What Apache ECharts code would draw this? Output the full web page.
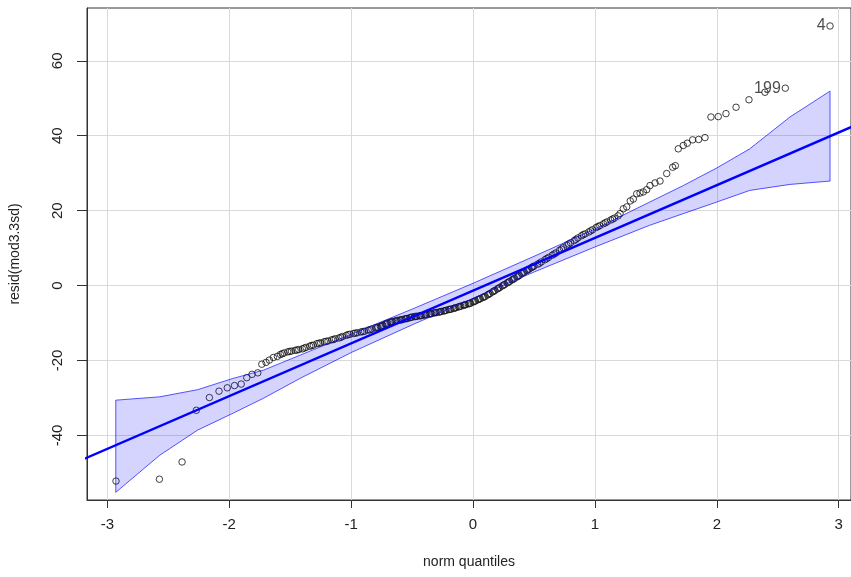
<!DOCTYPE html>
<html>
<head>
<meta charset="utf-8">
<script src="https://cdn.jsdelivr.net/npm/echarts@6/dist/echarts.min.js"></script>
<style>html,body{margin:0;padding:0;background:#fff;}#c{width:851px;height:577px;}</style>
</head>
<body>
<div id="c"></div>
<script>
// Theoretical normal quantiles (x) and residuals (y)
const qx = [
 -2.929,-2.573,-2.387,-2.270,-2.163,-2.084,-2.016,-1.957,-1.902,-1.856,-1.813,-1.766,-1.733,-1.698,-1.671,-1.638,-1.605,
 -1.58,-1.55,-1.52,-1.49,-1.46,-1.43,-1.40,-1.37,-1.34,-1.31,-1.28,-1.25,-1.22,-1.19,-1.16,-1.13,-1.10,-1.07,-1.04,-1.01,
 -0.98,-0.95,-0.92,-0.89,-0.86,-0.83,-0.80,
 -0.78,-0.76,-0.74,-0.72,-0.70,-0.68,-0.66,-0.64,-0.62,-0.60,-0.58,-0.56,-0.54,-0.52,-0.50,-0.48,-0.46,-0.44,-0.42,-0.40,
 -0.38,-0.36,-0.34,-0.32,-0.30,-0.28,-0.26,-0.24,-0.22,-0.20,-0.18,-0.16,-0.14,-0.12,-0.10,-0.08,-0.06,-0.04,-0.02,0.00,
 0.02,0.04,0.06,0.08,0.10,0.12,0.14,0.16,0.18,0.20,0.22,0.24,0.26,0.28,0.30,0.32,0.34,0.36,0.38,0.40,0.42,0.44,0.46,0.48,0.50,
 0.53,0.56,0.59,0.62,0.65,0.68,0.71,0.74,0.77,0.80,0.83,0.86,0.89,0.92,0.95,0.98,1.01,1.04,1.07,1.10,1.13,1.16,1.19,
 1.206,1.233,1.261,1.29,1.315,1.343,1.37,1.397,1.425,1.452,1.493,1.534,1.589,1.638,1.660,
 1.684,1.725,1.758,1.802,1.851,1.903,1.952,2.012,2.075,2.158,2.264,2.395,2.562,2.929,
 // extra points in the dense middle band
 -1.565,-1.505,-1.445,-1.385,-1.325,-1.265,-1.205,-1.145,-1.085,-1.025,-0.965,-0.905,-0.845,
 -0.79,-0.75,-0.71,-0.67,-0.63,-0.59,-0.55,-0.51,-0.47,-0.43,-0.39,-0.35,-0.31,-0.27,-0.23,-0.19,-0.15,-0.11,-0.07,-0.03,
 0.01,0.05,0.09,0.13,0.17,0.21,0.25,0.29,0.33,0.37,0.41,0.45,0.49,
 0.545,0.605,0.665,0.725,0.785,0.845,0.905,0.965,1.025,1.085,1.145
];
const resid = [
 -52.2,-51.7,-47.1,-33.3,-29.9,-28.2,-27.3,-26.7,-26.3,-24.6,-23.7,-23.3,-21.0,-20.5,-19.9,-19.2,-18.9,
 -18.4,-18.0,-17.7,-17.5,-17.3,-17.1,-16.9,-16.5,-16.2,-15.9,-15.5,-15.3,-15.0,-14.8,-14.5,-14.2,-14.0,-13.6,-13.3,-13.0,
 -12.8,-12.6,-12.4,-12.2,-11.9,-11.6,-11.3,
 -11.1,-10.9,-10.6,-10.3,-10.0,-9.8,-9.6,-9.5,-9.3,-9.2,-9.1,-8.9,-8.8,-8.6,-8.4,-8.3,-8.2,-8.1,-8.0,-7.9,
 -7.7,-7.6,-7.5,-7.3,-7.2,-7.1,-6.9,-6.8,-6.6,-6.4,-6.3,-6.1,-5.9,-5.7,-5.5,-5.3,-5.1,-4.9,-4.7,-4.4,
 -4.1,-3.8,-3.5,-3.2,-2.9,-2.5,-2.1,-1.7,-1.3,-0.9,-0.5,-0.1,0.3,0.7,1.1,1.5,1.9,2.3,2.7,3.2,3.6,4.0,4.4,4.8,5.2,
 5.7,6.3,6.9,7.5,8.1,8.7,9.4,10.1,10.8,11.4,12.0,12.7,13.3,13.8,14.3,14.9,15.5,16.0,16.5,17.0,17.5,18.0,18.6,
 19.2,20.5,21.0,22.6,23.1,24.5,24.7,25.0,25.6,26.7,27.4,27.9,29.9,31.6,32.0,
 36.5,37.4,38.0,38.9,39.0,39.5,45.0,45.1,45.9,47.6,49.6,51.6,52.7,69.3,
 -18.2,-17.6,-17.2,-16.7,-16.0,-15.4,-14.9,-14.4,-13.8,-13.1,-12.7,-12.3,-11.8,
 -11.2,-10.8,-10.2,-9.7,-9.4,-9.15,-8.85,-8.5,-8.25,-8.05,-7.8,-7.55,-7.25,-7.0,-6.7,-6.35,-6.0,-5.6,-5.2,-4.8,
 -4.25,-3.65,-3.05,-2.3,-1.5,-0.7,0.1,0.9,1.7,2.5,3.4,4.2,5.0,
 5.95,7.2,8.4,9.7,11.1,12.35,13.6,14.6,15.75,16.75,17.75
];
// Labelled points
const labX = [2.562, 2.929];
const labY = [52.7, 69.3];
const labText = ['199', '4'];
// Confidence envelope
const envX = [-2.931,-2.57,-2.26,-1.97,-1.72,-1.42,-1.0,-0.5,0.0,0.5,1.0,1.45,1.725,2.0,2.27,2.6,2.929];
const envUp = [-30.6,-29.7,-27.8,-24.8,-22.6,-18.6,-13.0,-6.3,0.6,7.8,15.1,22.3,26.7,31.4,36.5,45.0,51.9];
const envLo = [-55.2,-45.3,-38.6,-34.1,-30.1,-24.8,-17.9,-10.5,-3.4,3.6,10.3,16.1,19.2,22.3,25.4,27.0,27.9];
// Reference line end points
const lineX = [-3.2, 3.2];
const lineY = [-46.4, 43.7];
// Ticks
const xTicks = [-3,-2,-1,0,1,2,3];
const yTicks = [-40,-20,0,20,40,60];

const FONT = 'Liberation Sans, Arial, sans-serif';
const chart = echarts.init(document.getElementById('c'), null, {renderer: 'canvas'});
const pts = qx.map((x, i) => [x, resid[i]]);
chart.setOption({
  animation: false,
  backgroundColor: '#fff',
  grid: {left: 87, right: -1, top: 8, bottom: 77, show: true, borderColor: '#333', borderWidth: 1, containLabel: false},
  xAxis: {
    type: 'value', min: -3.167, max: 3.101,
    name: 'norm quantiles', nameLocation: 'middle', nameGap: 55,
    nameTextStyle: {fontFamily: FONT, fontSize: 14, color: '#222'},
    axisLine: {onZero: false, lineStyle: {color: '#333', width: 1}},
    axisTick: {show: true, customValues: xTicks, length: 8, lineStyle: {color: '#333'}},
    axisLabel: {customValues: xTicks, margin: 17, fontFamily: FONT, fontSize: 15, color: '#222'},
    splitLine: {show: true, lineStyle: {color: '#d9d9d9', width: 1}}
  },
  yAxis: {
    type: 'value', min: -57.25, max: 74.1,
    name: 'resid(mod3.3sd)', nameLocation: 'middle', nameGap: 65,
    nameTextStyle: {fontFamily: FONT, fontSize: 14, color: '#222'},
    axisLine: {onZero: false, lineStyle: {color: '#333', width: 1}},
    axisTick: {show: true, customValues: yTicks, length: 10, lineStyle: {color: '#333'}},
    axisLabel: {customValues: yTicks, rotate: 90, margin: 22, fontFamily: FONT, fontSize: 15, color: '#222'},
    splitLine: {show: true, lineStyle: {color: '#d9d9d9', width: 1}}
  },
  series: [
    {
      type: 'scatter', data: pts, symbol: 'circle', symbolSize: 6.5, z: 2,
      itemStyle: {color: 'rgba(0,0,0,0)', borderColor: '#111', borderWidth: 1}
    },
    {
      type: 'custom', z: 3, clip: true,
      data: [[envX[0], envUp[0]]],
      renderItem: function (params, api) {
        const p = [];
        for (let i = 0; i < envX.length; i++) p.push(api.coord([envX[i], envUp[i]]));
        for (let i = envX.length - 1; i >= 0; i--) p.push(api.coord([envX[i], envLo[i]]));
        return {type: 'polygon', shape: {points: p},
          style: {fill: 'rgba(0,0,255,0.17)', stroke: 'rgba(0,0,255,0.65)', lineWidth: 1}};
      }
    },
    {
      type: 'line', data: lineX.map((x, i) => [x, lineY[i]]), z: 4, clip: true,
      symbol: 'none', lineStyle: {color: '#0000ff', width: 2.4}
    },
    {
      type: 'scatter', z: 5, symbolSize: 1, itemStyle: {color: 'rgba(0,0,0,0)'},
      data: labX.map((x, i) => [x, labY[i], labText[i]]),
      label: {show: true, position: 'left', distance: 4, formatter: p => p.value[2],
        fontFamily: FONT, fontSize: 16, color: '#222'}
    }
  ]
});
</script>
</body>
</html>
